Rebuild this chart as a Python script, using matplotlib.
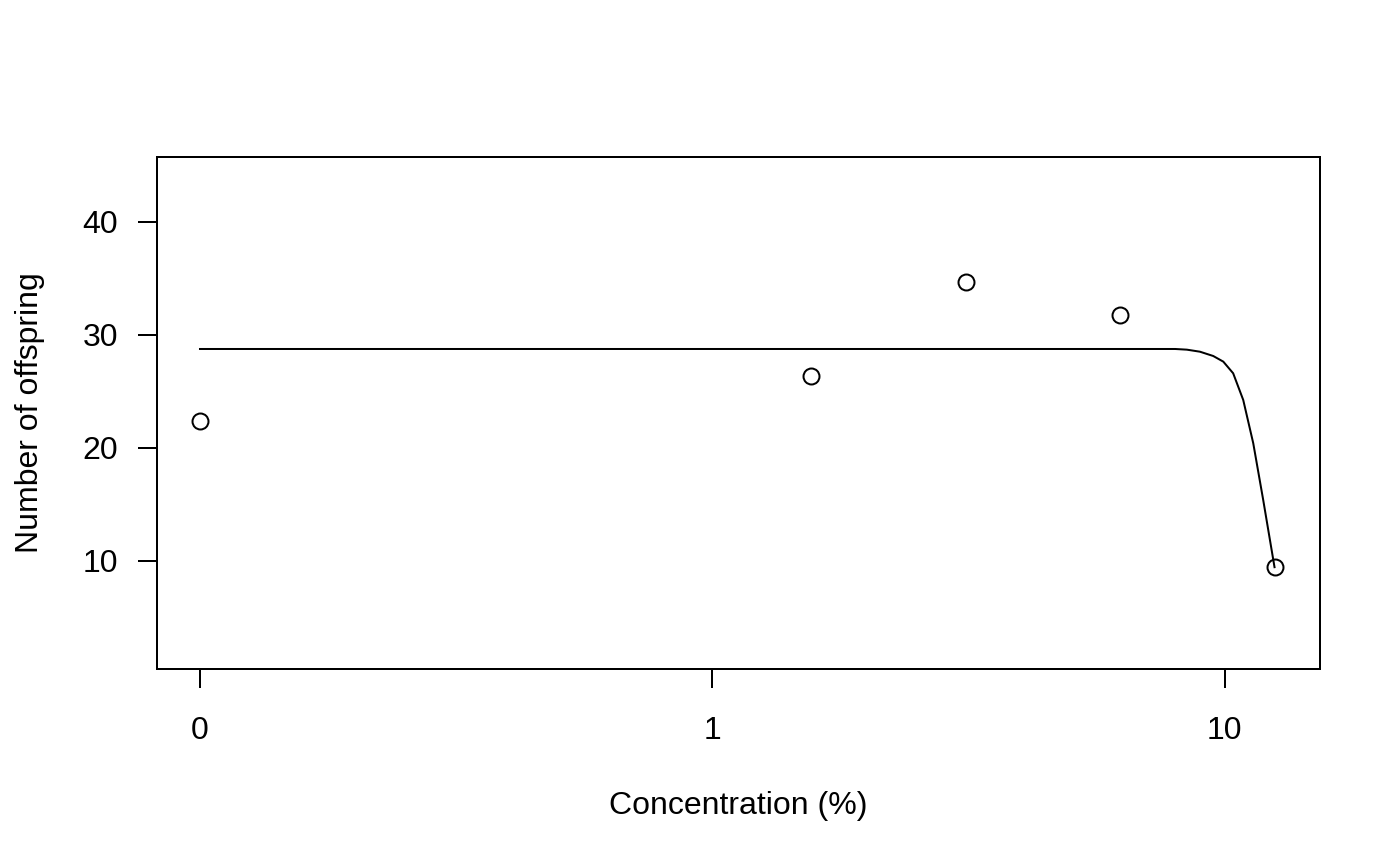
import matplotlib
matplotlib.use("Agg")
import matplotlib.pyplot as plt
import numpy as np

# observed means (concentration 0 is drawn at 0.1 on the log axis, as drc does)
conc = [0, 1.56, 3.125, 6.25, 12.5]
offspring = [22.4, 26.4, 34.7, 31.8, 9.45]

# fitted curve
curve_conc = [0, 8.0, 8.43, 8.94, 9.49, 9.93, 10.38, 10.86, 11.36, 11.88, 12.5]
curve_resp = [28.76, 28.76, 28.70, 28.52, 28.14, 27.64, 26.61, 24.25, 20.42, 15.40, 9.45]

x_ticks = [0.1, 1, 10]
x_ticklabels = ["0", "1", "10"]
y_ticks = [10, 20, 30, 40]

zero_pos = 0.1

plt.rcParams["font.family"] = ["Liberation Sans", "DejaVu Sans"]
plt.rcParams["font.size"] = 23

fig = plt.figure(figsize=(14, 8.66), dpi=100)
ax = fig.add_axes([0.1121, 0.2275, 0.8307, 0.5912])

cx = [c if c > 0 else zero_pos for c in curve_conc]
px = [c if c > 0 else zero_pos for c in conc]

ax.plot(cx, curve_resp, color="black", linewidth=1.44)
ax.plot(px, offspring, linestyle="none", marker="o", markersize=11.5,
        markerfacecolor="none", markeredgecolor="black", markeredgewidth=1.44)

ax.set_xscale("log")
ax.set_xlim(10 ** -1.084, 10 ** 1.1855)
ax.set_ylim(0.44, 45.75)
ax.set_xticks(x_ticks)
ax.set_xticklabels(x_ticklabels)
ax.xaxis.set_minor_locator(matplotlib.ticker.NullLocator())
ax.set_yticks(y_ticks)

for s in ax.spines.values():
    s.set_linewidth(1.44)
ax.tick_params(axis="both", direction="out", length=14, width=1.44, pad=14)
ax.tick_params(axis="x", pad=20)

ax.set_xlabel("Concentration (%)", labelpad=32)
ax.set_ylabel("Number of offspring", labelpad=27)

fig.savefig("out.png", dpi=100)
